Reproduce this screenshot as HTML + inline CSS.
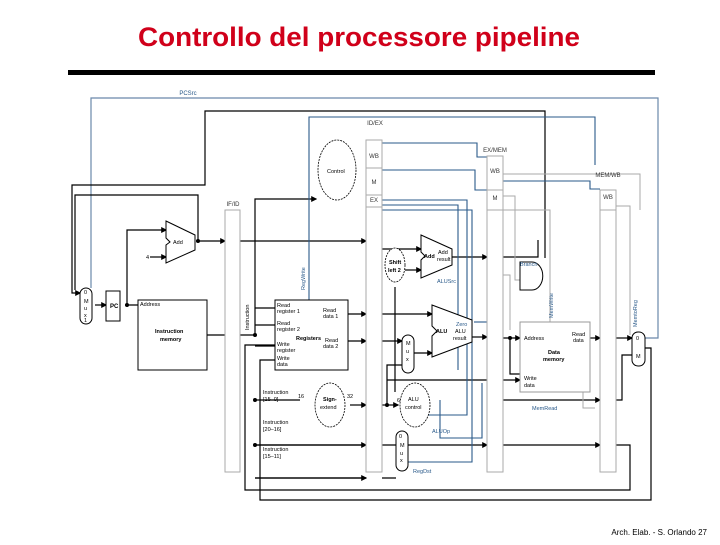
<!DOCTYPE html>
<html><head><meta charset="utf-8"><style>
body{margin:0;background:#fff;width:720px;height:540px;overflow:hidden;font-family:"Liberation Sans",sans-serif}
</style></head><body>
<svg width="720" height="540" viewBox="0 0 720 540" xmlns="http://www.w3.org/2000/svg" font-family="Liberation Sans, sans-serif">
<defs>
<marker id="a" markerWidth="5" markerHeight="5" refX="4" refY="2.5" orient="auto"><path d="M0,0L5,2.5L0,5z" fill="#000"/></marker>
</defs>
<text x="359" y="46" font-size="27" font-weight="bold" fill="#d0001a" text-anchor="middle" textLength="442" lengthAdjust="spacingAndGlyphs">Controllo del processore pipeline</text>
<rect x="68" y="70" width="587" height="5" fill="#000"/>
<text x="707" y="535" font-size="8" text-anchor="end">Arch. Elab. - S. Orlando 27</text>

<g fill="none" stroke="#6a88aa" stroke-width="1.2">
<path d="M91,288V98H658V338H645"/>
</g>
<text x="188" y="95" font-size="6" fill="#2a5a8a" text-anchor="middle">PCSrc</text>

<g fill="none" stroke="#000" stroke-width="1.2">
<path d="M545,258V111H205V185H72V293H80" marker-end="url(#a)"/>
<path d="M196,241H198V195H75V290"/>
<path d="M198,241H225" marker-end="url(#a)"/>
<path d="M240,241H366" marker-end="url(#a)"/>
<path d="M125,305H145" marker-end="url(#a)"/>
<path d="M127,305V230H166" marker-end="url(#a)"/>
<path d="M150,257H166" marker-end="url(#a)"/>
<path d="M95,305H106" marker-end="url(#a)"/>
<path d="M207,335H225"/>
<path d="M240,335H255V199H316" marker-end="url(#a)"/>
<path d="M255,308H275M255,325H275M255,346H275M255,400H300M255,445H366M255,478H366" />
<path d="M255,478H366" marker-end="url(#a)"/><path d="M255,445H366" marker-end="url(#a)"/>
<path d="M348,314H366" marker-end="url(#a)"/>
<path d="M348,341H366" marker-end="url(#a)"/>
<path d="M350,405H366" marker-end="url(#a)"/>
<path d="M382,314H432" marker-end="url(#a)"/>
<path d="M382,341H402" marker-end="url(#a)"/>
<path d="M382,405H398" marker-end="url(#a)"/>
<path d="M387,405V365H402M387,405V380H487" />
<path d="M395,287V392"/>
<path d="M382,249H421" marker-end="url(#a)"/>
<path d="M405,270H421" marker-end="url(#a)"/>
<path d="M452,257H487" marker-end="url(#a)"/>
<path d="M414,353H432" marker-end="url(#a)"/>
<path d="M472,337H487" marker-end="url(#a)"/>
<path d="M503,338H520" marker-end="url(#a)"/>
<path d="M510,338V374H520"/>
<path d="M503,380H520" marker-end="url(#a)"/>
<path d="M503,257H538V240"/>
<path d="M382,445H396M382,478H396"/>
<path d="M408,445H487" marker-end="url(#a)"/>
<path d="M503,445H600" marker-end="url(#a)"/>
<path d="M616,445H630V490H245V345H275"/>
<path d="M590,338H600" marker-end="url(#a)"/>
<path d="M616,338H632" marker-end="url(#a)"/>
<path d="M616,400H622V355H632"/>
<path d="M503,400H600" marker-end="url(#a)"/>
<path d="M645,348H651V500H260V360H275"/>
</g>
<g fill="none" stroke="#2a5a8a" stroke-width="1.1">
<path d="M309,300V117H595V165"/>
<path d="M382,143H477V157H487"/>
<path d="M382,170H475V190H487"/>
<path d="M382,200H467V415H428"/>
<path d="M382,205H458V370"/>
<path d="M382,210H472V462H408"/>
<path d="M503,181H590V189H600"/>
<path d="M474,322H487"/>
<path d="M440,400V438H482V383"/>
</g>
<g fill="none" stroke="#aaa" stroke-width="1">
<path d="M503,174H640V210"/>
<path d="M503,210H550V332"/>
<path d="M503,196H515V280H520M503,275H510V330"/>
<path d="M616,206H630V335"/>
<path d="M583,392V408H595"/>
</g>

<g fill="#fff" stroke="#aaa" stroke-width="1">
<rect x="225" y="210" width="15" height="262"/>
<rect x="366" y="140" width="16" height="332"/>
<rect x="487" y="156" width="16" height="316"/>
<rect x="600" y="190" width="16" height="282"/>
<path d="M366,168H382M366,195H382M366,207H382M487,190H503M487,210H503M600,210H616"/>
</g>
<g font-size="6" text-anchor="middle" fill="#333">
<text x="375" y="125">ID/EX</text><text x="233" y="206">IF/ID</text>
<text x="495" y="152">EX/MEM</text><text x="608" y="177">MEM/WB</text>
<text x="374" y="158">WB</text><text x="374" y="184">M</text><text x="374" y="202">EX</text>
<text x="495" y="173">WB</text><text x="495" y="200">M</text><text x="608" y="199">WB</text>
</g>

<g fill="#fff" stroke="#000" stroke-width="1">
<rect x="106" y="291" width="14" height="30"/>
<rect x="138" y="300" width="69" height="70"/>
<rect x="275" y="300" width="73" height="70"/>
<path d="M166,221L195,235V250L166,263V245L170,242L166,238Z"/>
<path d="M421,235L452,249V265L421,278V260L425,256L421,252Z"/>
<path d="M432,305L472,320V342L432,357V336L437,331L432,326Z"/>
<rect x="80" y="288" width="12" height="36" rx="6"/>
<rect x="402" y="335" width="12" height="38" rx="6"/>
<rect x="396" y="431" width="12" height="40" rx="6"/>
<rect x="632" y="332" width="13" height="34" rx="6"/>
<path d="M520,262H532A10,13 0 0 1 532,290H520Z"/>
</g>
<rect x="520" y="322" width="70" height="70" fill="#fff" stroke="#999"/>
<g fill="#fff" stroke="#000" stroke-dasharray="2,1" stroke-width="0.8">
<ellipse cx="337" cy="170" rx="19" ry="30"/>
<ellipse cx="330" cy="405" rx="15" ry="22"/>
<ellipse cx="415" cy="405" rx="15" ry="22"/>
<ellipse cx="395" cy="265" rx="10" ry="17"/>
</g>
<g fill="#000"><circle cx="127" cy="305" r="2"/><circle cx="198" cy="241" r="2"/><circle cx="255" cy="335" r="2"/><circle cx="255" cy="400" r="2"/><circle cx="255" cy="445" r="2"/><circle cx="387" cy="405" r="2"/><circle cx="510" cy="338" r="2"/></g>

<g font-size="5.5" fill="#000">
<text x="110" y="308" font-weight="bold" font-size="6">PC</text>
<text x="140" y="306">Address</text>
<text x="155" y="333" font-weight="bold">Instruction</text><text x="160" y="341" font-weight="bold">memory</text>
<text x="173" y="244">Add</text><text x="146" y="259">4</text>
<text x="84" y="294">0</text><text x="84" y="303">M</text><text x="84" y="310">u</text><text x="84" y="317">x</text><text x="84" y="322">1</text>
<text x="277" y="307">Read</text><text x="277" y="313">register 1</text>
<text x="277" y="325">Read</text><text x="277" y="331">register 2</text>
<text x="277" y="346">Write</text><text x="277" y="352">register</text>
<text x="277" y="360">Write</text><text x="277" y="366">data</text>
<text x="323" y="312">Read</text><text x="323" y="318">data 1</text>
<text x="325" y="342">Read</text><text x="323" y="348">data 2</text>
<text x="296" y="340" font-weight="bold">Registers</text>
<text x="327" y="173">Control</text>
<text x="323" y="401" font-weight="bold">Sign-</text><text x="320" y="409">extend</text>
<text x="408" y="401">ALU</text><text x="405" y="409">control</text>
<text x="389" y="264" font-weight="bold">Shift</text><text x="388" y="272" font-weight="bold">left 2</text>
<text x="424" y="258" font-weight="bold">Add</text><text x="438" y="254">Add</text><text x="437" y="261">result</text>
<text x="436" y="333" font-weight="bold">ALU</text><text x="455" y="333">ALU</text><text x="453" y="340">result</text>
<text x="456" y="326" fill="#2a5a8a">Zero</text>
<text x="524" y="340">Address</text><text x="572" y="336">Read</text><text x="573" y="342">data</text>
<text x="548" y="354" font-weight="bold">Data</text><text x="543" y="361" font-weight="bold">memory</text>
<text x="524" y="380">Write</text><text x="524" y="387">data</text>
<text x="263" y="394">Instruction</text><text x="263" y="401">[15–0]</text>
<text x="263" y="424">Instruction</text><text x="263" y="431">[20–16]</text>
<text x="263" y="451">Instruction</text><text x="263" y="458">[15–11]</text>
<text x="298" y="398">16</text><text x="347" y="398">32</text><text x="397" y="402">6</text>
<text x="406" y="345">M</text><text x="406" y="353">u</text><text x="406" y="361">x</text>
<text x="399" y="438">0</text><text x="400" y="447">M</text><text x="400" y="455">u</text><text x="400" y="462">x</text>
<text x="636" y="340">0</text><text x="636" y="358">M</text>
</g>
<g font-size="5.5" fill="#2a5a8a">
<text x="437" y="283">ALUSrc</text><text x="432" y="433">ALUOp</text><text x="413" y="473">RegDst</text>
<text x="532" y="410">MemRead</text><text x="520" y="266">Branch</text>
<text transform="translate(305,290) rotate(-90)">RegWrite</text>
<text transform="translate(553,318) rotate(-90)">MemWrite</text>
<text transform="translate(637,327) rotate(-90)">MemtoReg</text>
<text transform="translate(249,330) rotate(-90)" fill="#000">Instruction</text>
</g>
</svg>
</body></html>
